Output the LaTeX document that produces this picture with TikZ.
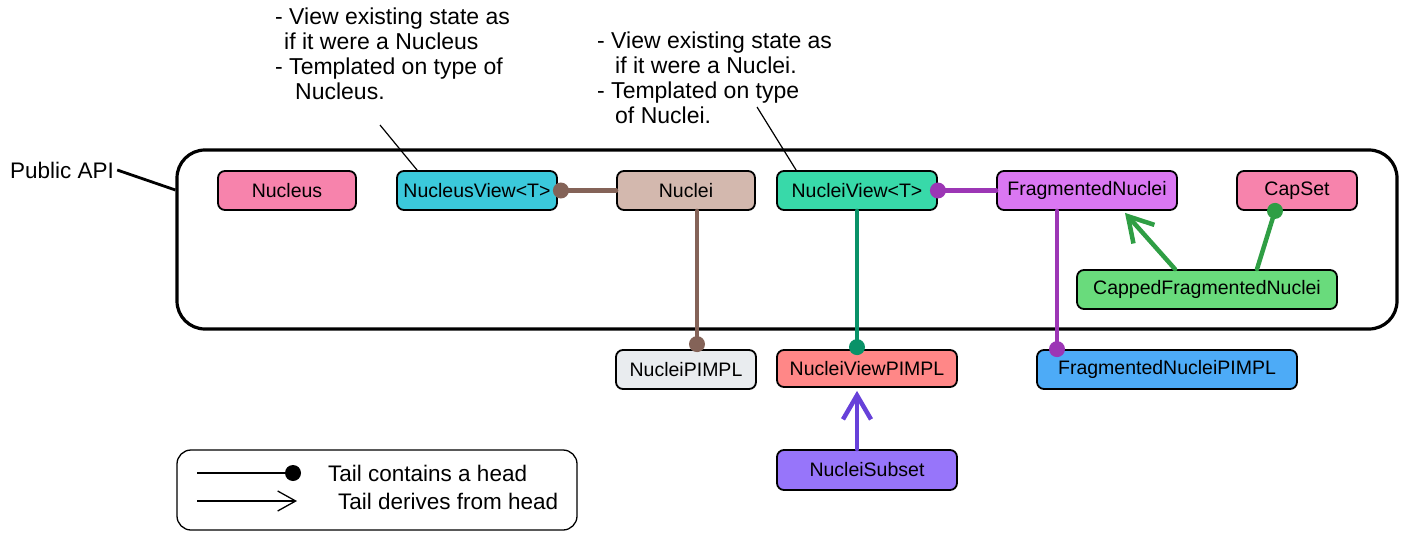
\documentclass[tikz,border=0pt]{standalone}
\usepackage{fontspec}
\setmainfont{Liberation Sans}
\usetikzlibrary{arrows.meta,calc}
\definecolor{cpink}{HTML}{F783AC}
\definecolor{ccyan}{HTML}{3BC9DB}
\definecolor{cbrownfill}{HTML}{D3B8AE}
\definecolor{cbrown}{HTML}{846358}
\definecolor{cteal}{HTML}{38D9A9}
\definecolor{ctealline}{HTML}{099268}
\definecolor{cgrape}{HTML}{DA77F2}
\definecolor{cgrapeline}{HTML}{9C36B5}
\definecolor{cgreen}{HTML}{69DB7C}
\definecolor{cgreenline}{HTML}{2F9E44}
\definecolor{cgray}{HTML}{E9ECEF}
\definecolor{cred}{HTML}{FF8787}
\definecolor{cblue}{HTML}{4DABF7}
\definecolor{cviolet}{HTML}{9775FA}
\definecolor{cvioletline}{HTML}{6741D9}
\begin{document}
\begin{tikzpicture}[x=1pt,y=-1pt,
  box/.style={draw=black, line width=1.8pt, rounded corners=7pt, minimum height=39pt, inner sep=0pt,
    font=\fontsize{19.5}{22}\selectfont, text=black},
  conn/.style={line width=4.5pt, line cap=round},
  derive/.style={conn, -{Straight Barb[length=24pt,width=28pt,line width=4.5pt]}},
  note/.style={align=left, anchor=north west, inner sep=0pt, font=\fontsize{23}{25}\selectfont},
  txt/.style={anchor=west, inner sep=0pt, font=\fontsize{22.5}{25}\selectfont},
  leader/.style={line width=1.2pt}
]
\useasboundingbox (0,0) rectangle (1407,540);

% big frame
\node[draw=black, line width=3.2pt, rounded corners=28pt, minimum width=1220pt, minimum height=179pt] (api) at (787,239.5) {};
\node[txt] (apilabel) at (10,170) {Public API};
\draw[line width=2.8pt] ($(apilabel.east)+(3,0)$) -- ($(api.west)+(0,-49.5)$);

% nodes
\node[box, fill=cpink, minimum width=138pt] (Nucleus) at (287,190.5) {Nucleus};
\node[box, fill=ccyan, minimum width=160pt] (NucleusView) at (477,190.5) {NucleusView<T>};
\node[box, fill=cbrownfill, minimum width=138pt] (Nuclei) at (686,190.5) {Nuclei};
\node[box, fill=cteal, minimum width=160pt] (NucleiView) at (857,190.5) {NucleiView<T>};
\node[box, fill=cgrape, minimum width=180pt] (Frag) at (1087,190.5) {FragmentedNuclei};
\node[box, fill=cpink, minimum width=120pt] (CapSet) at (1297,190.5) {CapSet};
\node[box, fill=cgreen, minimum width=260pt] (Capped) at (1207,289.5) {CappedFragmentedNuclei};
\node[box, fill=cgray, minimum width=140pt] (NucleiPIMPL) at (686,369.5) {NucleiPIMPL};
\node[box, fill=cred, minimum width=180pt, minimum height=37pt] (NucleiViewPIMPL) at (867,368.5) {NucleiViewPIMPL};
\node[box, fill=cblue, minimum width=260pt] (FragPIMPL) at (1167,369.5) {FragmentedNucleiPIMPL};
\node[box, fill=cviolet, minimum width=180pt, minimum height=40pt] (Subset) at (867,470) {NucleiSubset};

% notes
\node[note] (note1) at (275,8) {- View existing state as\\\hspace{9pt}if it were a Nucleus\\- Templated on type of\\\hspace{20pt}Nucleus.};
\node[note] (note2) at (597,32) {- View existing state as\\\hspace{18pt}if it were a Nuclei.\\- Templated on type\\\hspace{18pt}of Nuclei.};
\coordinate (n1end) at (380,125);
\coordinate (n2end) at (757,107);
\draw[leader] (n1end) -- ($(NucleusView.north west)+(21,0)$);
\draw[leader] (n2end) -- ($(NucleiView.north west)+(20,0)$);

% helper coordinates
\coordinate (bT) at ($(Nuclei.south)+(11,0)$);
\coordinate (bB) at (bT |- NucleiPIMPL.north);
\coordinate (gB) at (NucleiView.south |- NucleiViewPIMPL.north);
\coordinate (pT) at ($(Frag.south)+(-30,0)$);
\coordinate (pB) at (pT |- FragPIMPL.north);
\coordinate (vT) at ($(NucleiViewPIMPL.south)+(-10,3)$);
\coordinate (vB) at (vT |- Subset.north);

% connectors: contains
\draw[conn, cbrown] (Nuclei.west) -- (NucleusView.east);
\fill[cbrown] ($(NucleusView.east)+(3,0)$) circle (8pt);
\draw[conn, cbrown] (bT) -- ($(bB)+(0,-5)$);
\fill[cbrown] ($(bB)+(0,-5)$) circle (8pt);

\draw[conn, cgrapeline] (Frag.west) -- (NucleiView.east);
\fill[cgrapeline] (NucleiView.east) circle (8pt);
\draw[conn, ctealline] (NucleiView.south) -- ($(gB)+(0,-2)$);
\fill[ctealline] ($(gB)+(0,-2)$) circle (8pt);
\draw[conn, cgrapeline] (pT) -- (pB);
\fill[cgrapeline] (pB) circle (8pt);

\draw[conn, cgreenline] ($(Capped.north)+(50,0)$) -- ($(CapSet.south)+(-22,0)$);
\fill[cgreenline] ($(CapSet.south)+(-22,0)$) circle (8pt);

% connectors: derives
\draw[derive, cgreenline] ($(Capped.north)+(-32,0)$) -- ($(Frag.south)+(38,2)$);
\draw[derive, cvioletline] (vB) -- (vT);

% legend
\node[draw=black, line width=1.3pt, rounded corners=14pt, minimum width=400pt, minimum height=80pt] (legend) at (377,490) {};
\coordinate (l1a) at (197,473);
\coordinate (l1b) at (293,473);
\coordinate (l2a) at (197,501);
\coordinate (l2b) at (297,501);
\draw[line width=1.3pt] (l1a) -- (l1b);
\fill (l1b) circle (8pt);
\draw[line width=1.3pt, -{Straight Barb[length=18pt,width=20pt,line width=1.3pt]}] (l2a) -- (l2b);
\node[txt] (leg1) at (328,473) {Tail contains a head};
\node[txt] (leg2) at (338,501) {Tail derives from head};
\end{tikzpicture}
\end{document}
